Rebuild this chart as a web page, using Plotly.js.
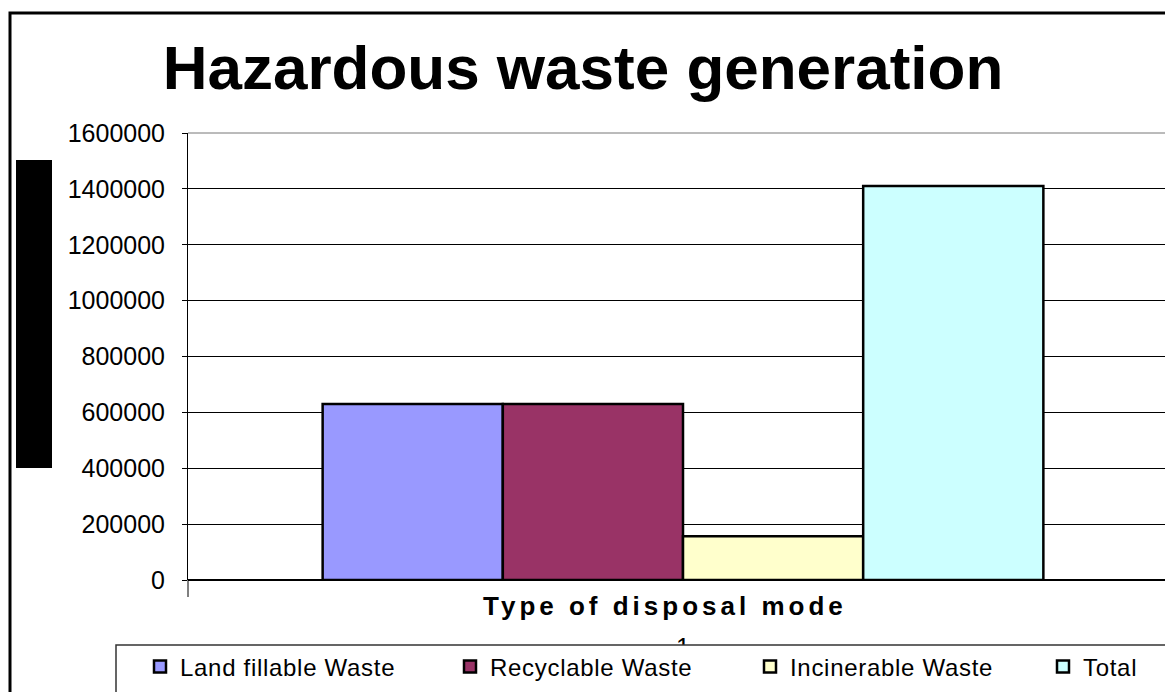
<!DOCTYPE html>
<html>
<head>
<meta charset="utf-8">
<script src="https://cdn.plot.ly/plotly-3.0.1.min.js"></script>
<style>
  html, body { margin: 0; padding: 0; overflow: hidden; background: #fff; }
  #chart { width: 1165px; height: 692px; }
  .annotation-text { letter-spacing: 4px; }
  .legendtext { letter-spacing: 0.7px; }
</style>
</head>
<body>
<div id="chart"></div>
<script>
// ---- data ----
const categories = ['1'];
const seriesNames = ['Land fillable Waste', 'Recyclable Waste', 'Incinerable Waste', 'Total'];
const landfillable = [630000];
const recyclable = [630000];
const incinerable = [157000];
const total = [1410000];
const yTickValues = [0, 200000, 400000, 600000, 800000, 1000000, 1200000, 1400000, 1600000];
const yTickLabels = ['0', '200000', '400000', '600000', '800000', '1000000', '1200000', '1400000', '1600000'];

// ---- layout helpers (pixel -> paper) ----
const L = 188, R = 1165, T = 133, B = 580;
const px = v => (v - L) / (R - L);
const py = v => (B - v) / (B - T);

const colors = ['#9999FF', '#993366', '#FFFFCC', '#CCFFFF'];
const values = [landfillable, recyclable, incinerable, total];
const legendWidths = [265, 255, 248, null];

const traces = seriesNames.map((name, i) => {
  const t = {
    type: 'bar',
    name: name,
    x: categories,
    y: values[i],
    marker: { color: colors[i], line: { color: '#000', width: 2.5 } },
    hoverinfo: 'none'
  };
  if (legendWidths[i]) t.legendwidth = legendWidths[i];
  return t;
});

const font = 'Liberation Sans, Arial, sans-serif';

const layout = {
  width: 1165,
  height: 692,
  margin: { l: L, r: 1165 - R, t: T, b: 692 - B, pad: 0, autoexpand: false },
  paper_bgcolor: '#fff',
  plot_bgcolor: '#fff',
  barmode: 'group',
  bargap: 0.272,
  bargroupgap: 0,
  showlegend: true,
  title: {
    text: '<b>Hazardous waste generation</b>',
    font: { family: font, size: 62, color: '#000' },
    x: 583 / 1165, xanchor: 'center', xref: 'container',
    y: 1 - 67 / 692, yanchor: 'middle', yref: 'container'
  },
  xaxis: {
    type: 'category',
    range: [-0.5, -0.5 + (R - L) / 990],
    showgrid: false,
    zeroline: false,
    showline: false,
    ticks: '',
    ticklabelstandoff: 50,
    tickfont: { family: font, size: 25, color: '#000' },
    fixedrange: true
  },
  yaxis: {
    range: [0, 1600000],
    tickvals: yTickValues,
    ticktext: yTickLabels,
    ticks: 'outside',
    ticklen: 5,
    tickwidth: 1,
    tickcolor: '#000',
    showgrid: true,
    gridcolor: '#000',
    gridwidth: 1,
    zeroline: true,
    zerolinecolor: '#000',
    zerolinewidth: 1.5,
    showline: true,
    linecolor: '#000',
    linewidth: 1,
    tickfont: { family: font, size: 25, color: '#000' },
    ticklabelstandoff: 12,
    fixedrange: true
  },
  legend: {
    orientation: 'h',
    xref: 'paper', yref: 'paper',
    x: px(140), xanchor: 'left',
    y: py(667), yanchor: 'middle',
    bgcolor: 'rgba(0,0,0,0)',
    borderwidth: 0,
    font: { family: font, size: 24, color: '#000' },
    traceorder: 'normal'
  },
  shapes: [
    // outer chart frame (extends past the visible area)
    { type: 'rect', xref: 'paper', yref: 'paper', x0: px(10), x1: px(1300), y0: py(800), y1: py(13),
      line: { color: '#000', width: 3 }, fillcolor: 'rgba(0,0,0,0)', layer: 'below' },
    // top gridline
    { type: 'line', xref: 'paper', yref: 'paper', x0: 0, x1: 1, y0: 1, y1: 1,
      line: { color: '#777', width: 1 }, layer: 'below' },
    // black block on the left
    { type: 'rect', xref: 'paper', yref: 'paper', x0: px(16), x1: px(52), y0: py(468), y1: py(160),
      line: { width: 0 }, fillcolor: '#000', layer: 'above' },
    // y axis extension below zero
    { type: 'line', xref: 'paper', yref: 'paper', x0: 0, x1: 0, y0: py(597), y1: 0,
      line: { color: '#000', width: 1 }, layer: 'above' },
    // legend box
    { type: 'rect', xref: 'paper', yref: 'paper', x0: px(116), x1: px(1300), y0: py(800), y1: py(645),
      line: { color: '#333', width: 1.5 }, fillcolor: '#fff', layer: 'above' }
  ],
  annotations: [
    { text: '<b>Type of disposal mode</b>', xref: 'paper', yref: 'paper',
      x: px(665), y: py(606), xanchor: 'center', yanchor: 'middle', showarrow: false,
      font: { family: font, size: 26, color: '#000' } }
  ]
};

Plotly.newPlot('chart', traces, layout, { displayModeBar: false, staticPlot: true });
</script>
</body>
</html>
